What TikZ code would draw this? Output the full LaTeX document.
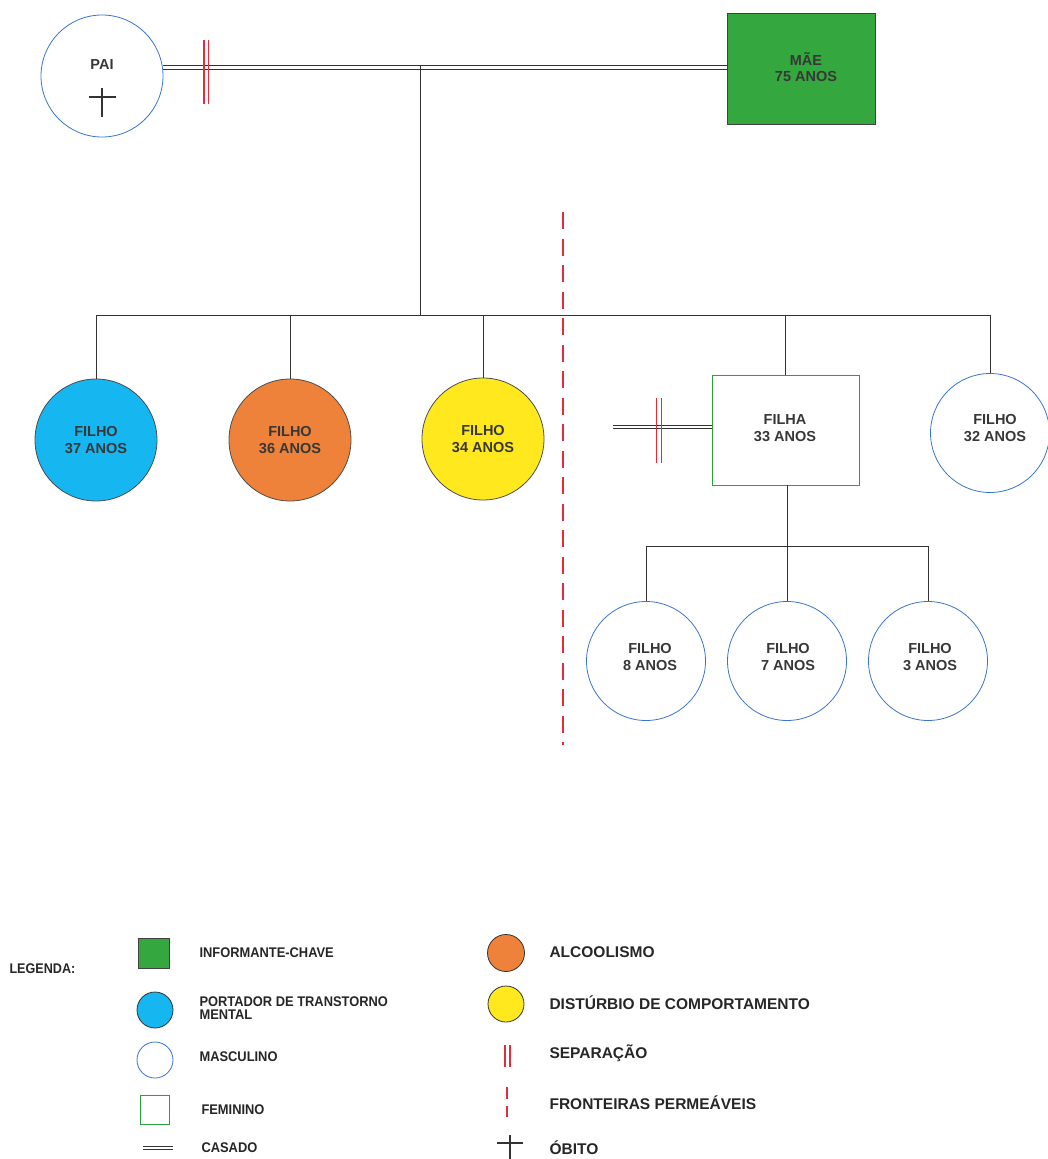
\documentclass[tikz,border=0pt]{standalone}
\usepackage{fontspec}
\setmainfont{Liberation Sans}
\newfontfamily\legfont{Liberation Sans}[FakeStretch=0.92]
\newfontfamily\legnarrow{Liberation Sans}[FakeStretch=0.9]
\definecolor{cgreen}{RGB}{52,168,62}
\definecolor{ccyan}{RGB}{22,182,240}
\definecolor{corange}{RGB}{238,130,58}
\definecolor{cyellow}{RGB}{255,233,30}
\definecolor{cblueline}{RGB}{60,115,205}
\definecolor{cfem}{RGB}{45,160,60}
\definecolor{sepred}{RGB}{222,45,60}
\definecolor{txtgray}{RGB}{55,55,55}
\tikzset{
  male/.style={circle, draw=cblueline, line width=0.8pt, minimum size=122pt, inner sep=0pt},
  gmale/.style={circle, draw=cblueline, line width=0.8pt, minimum size=119pt, inner sep=0pt},
  sick/.style={circle, draw=black!70, line width=0.8pt, minimum size=122pt, inner sep=0pt},
  lbl/.style={font=\bfseries\fontsize{14.5}{16.5}\selectfont, text=txtgray, align=center},
  casado/.style={draw=black!80, line width=1pt},
  sepbar/.style={draw=sepred, line width=1.1pt},
  link/.style={draw=black!80, line width=1pt},
  boundary/.style={draw=sepred, line width=1.1pt, dash pattern=on 17pt off 9.5pt},
  legl/.style={font=\legfont\bfseries\fontsize{14}{13.5}\selectfont, anchor=west, text=black!85, align=left},
  legr/.style={font=\bfseries\fontsize{15.5}{15}\selectfont, anchor=west, text=black!85, align=left},
}
\begin{document}
\begin{tikzpicture}[x=1pt, y=-1pt]
\useasboundingbox (0,0) rectangle (1048,1159);
% boundary
\coordinate (bt) at (563,212);
\coordinate (bb) at (563,745);
\draw[boundary] (bt) -- (bb);
% parents
\node[male] (pai) at (102,76) {};
\node[lbl] (paitxt) at (102,65) {PAI};
\coordinate (pxa) at (102,88);
\coordinate (pxb) at (102,117);
\coordinate (pxc) at (89,97);
\coordinate (pxd) at (116,97);
\draw[black!80, line width=1.2pt] (pxa) -- (pxb) (pxc) -- (pxd);
\node[rectangle, draw=black!75, fill=cgreen, line width=0.8pt, minimum width=148pt, minimum height=111pt, inner sep=0pt] (mae) at (801,68.5) {};
\node[lbl] (maetxt) at (806,67) {MÃE\\75 ANOS};
\coordinate (pm) at (pai.8);
\coordinate (mm) at (pm -| mae.west);
\draw[casado] ([yshift=1.7pt]pm) -- ([yshift=1.7pt]mm) ([yshift=-1.7pt]pm) -- ([yshift=-1.7pt]mm);
\coordinate (s1a) at (204,40);
\coordinate (s1b) at (204,104);
\coordinate (s2a) at (208.5,40);
\coordinate (s2b) at (208.5,104);
\draw[sepbar] (s1a) -- (s1b) (s2a) -- (s2b);
% children
\node[sick, fill=ccyan] (c1) at (96,440) {};
\node[sick, fill=corange] (c2) at (290,440) {};
\node[sick, fill=cyellow] (c3) at (483,439) {};
\node[rectangle, draw=cfem, line width=0.8pt, minimum width=147pt, minimum height=110pt, inner sep=0pt] (filha) at (785.5,430) {};
\node[gmale] (c5) at (990,433) {};
\node[lbl] at (c1) {FILHO\\37 ANOS};
\node[lbl] at (c2) {FILHO\\36 ANOS};
\node[lbl] at (c3) {FILHO\\34 ANOS};
\node[lbl] at (785,428) {FILHA\\33 ANOS};
\node[lbl] at (995,428) {FILHO\\32 ANOS};
\coordinate (stem) at (420,65.8);
\coordinate (sib) at (420,315);
\draw[link] (stem) -- (sib);
\draw[link] (c1.north |- sib) -- (c5.north |- sib);
\foreach \n in {c1,c2,c3,filha,c5} \draw[link] (\n.north |- sib) -- (\n.north);
% filha separation
\coordinate (ex) at (613,427);
\coordinate (exf) at (filha.west |- ex);
\draw[casado] ([yshift=1.7pt]ex) -- ([yshift=1.7pt]exf) ([yshift=-1.7pt]ex) -- ([yshift=-1.7pt]exf);
\coordinate (f1a) at (656.5,398);
\coordinate (f1b) at (656.5,463);
\coordinate (f2a) at (661.5,398);
\coordinate (f2b) at (661.5,463);
\draw[sepbar] (f1a) -- (f1b) (f2a) -- (f2b);
% grandchildren
\node[gmale] (g1) at (646,661) {};
\node[gmale] (g2) at (787,661) {};
\node[gmale] (g3) at (928,661) {};
\node[lbl] at (650,657) {FILHO\\8 ANOS};
\node[lbl] at (788,657) {FILHO\\7 ANOS};
\node[lbl] at (930,657) {FILHO\\3 ANOS};
\coordinate (gsib) at (787,546);
\draw[link] (filha.south -| gsib) -- (gsib);
\draw[link] (g1.north |- gsib) -- (g3.north |- gsib);
\foreach \n in {g1,g2,g3} \draw[link] (\n.north |- gsib) -- (\n.north);
% legend
\node[font=\legnarrow\bfseries\fontsize{14}{14}\selectfont, anchor=west, text=black!85] (leg) at (6,969) {LEGENDA:};
\node[rectangle, draw=black!75, fill=cgreen, line width=0.8pt, minimum width=31pt, minimum height=30pt, inner sep=0pt] (lk) at (154,953) {};
\node[legl] (lkt) at (196,953) {INFORMANTE-CHAVE};
\node[circle, draw=black!80, fill=ccyan, line width=0.8pt, minimum size=36pt, inner sep=0pt] (lp) at (155,1010) {};
\node[legl] (lpt) at (196,1008) {PORTADOR DE TRANSTORNO\\MENTAL};
\node[circle, draw=cblueline, line width=0.8pt, minimum size=36pt, inner sep=0pt] (lm) at (155,1060) {};
\node[legl] (lmt) at (196,1057) {MASCULINO};
\node[rectangle, draw=cfem, line width=0.8pt, minimum size=29pt, inner sep=0pt] (lf) at (155,1110) {};
\node[legl] (lft) at (198,1110) {FEMININO};
\coordinate (lca) at (143,1148);
\coordinate (lcb) at (173,1148);
\draw[casado] ([yshift=1.7pt]lca) -- ([yshift=1.7pt]lcb) ([yshift=-1.7pt]lca) -- ([yshift=-1.7pt]lcb);
\node[legl] (lct) at (198,1148) {CASADO};
\node[circle, draw=black!80, fill=corange, line width=0.8pt, minimum size=37pt, inner sep=0pt] (lo) at (506,953) {};
\node[legr] (lot) at (546,952) {ALCOOLISMO};
\node[circle, draw=black!80, fill=cyellow, line width=0.8pt, minimum size=36pt, inner sep=0pt] (ly) at (506,1004) {};
\node[legr] (lyt) at (546,1003) {DISTÚRBIO DE COMPORTAMENTO};
\coordinate (ls1a) at (505,1045);
\coordinate (ls1b) at (505,1067);
\coordinate (ls2a) at (510,1045);
\coordinate (ls2b) at (510,1067);
\draw[sepbar] (ls1a) -- (ls1b) (ls2a) -- (ls2b);
\node[legr] (lst) at (546,1053) {SEPARAÇÃO};
\coordinate (ldt) at (507,1087);
\coordinate (ldb) at (507,1117);
\draw[sepred, line width=1.1pt, dash pattern=on 12pt off 7pt] (ldt) -- (ldb);
\node[legr] (ldtt) at (546,1103) {FRONTEIRAS PERMEÁVEIS};
\coordinate (lxa) at (510,1135);
\coordinate (lxb) at (510,1159);
\coordinate (lxc) at (497,1143);
\coordinate (lxd) at (523,1143);
\draw[black!80, line width=1.2pt] (lxa) -- (lxb) (lxc) -- (lxd);
\node[legr] (lxt) at (546,1148) {ÓBITO};
\end{tikzpicture}
\end{document}
